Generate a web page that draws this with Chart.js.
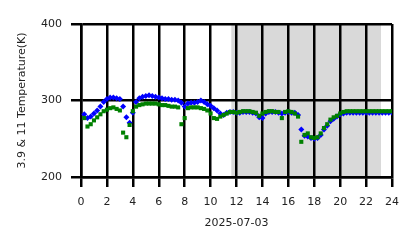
<!DOCTYPE html>
<html>
<head>
<meta charset="utf-8">
<script src="https://cdn.jsdelivr.net/npm/chart.js@4/dist/chart.umd.min.js"></script>
<style>
  html, body { margin: 0; padding: 0; background: #fff; }
  #wrap { position: relative; width: 418px; height: 248px; }
</style>
</head>
<body>
<div id="wrap"><canvas id="chart"></canvas></div>
<script>
// hours of day (2025-07-03)
const hours = [
  0.25, 0.5, 0.75, 1, 1.25, 1.5, 1.75, 2, 2.25, 2.5, 2.75, 3,
  3.25, 3.5, 3.75, 4, 4.25, 4.5, 4.75, 5, 5.25, 5.5, 5.75, 6,
  6.25, 6.5, 6.75, 7, 7.25, 7.5, 7.75, 8, 8.25, 8.5, 8.75, 9,
  9.25, 9.5, 9.75, 10, 10.25, 10.5, 10.75, 11, 11.25, 11.5, 11.75, 12,
  12.25, 12.5, 12.75, 13, 13.25, 13.5, 13.75, 14, 14.25, 14.5, 14.75, 15,
  15.25, 15.5, 15.75, 16, 16.25, 16.5, 16.75, 17, 17.25, 17.5, 17.75, 18,
  18.25, 18.5, 18.75, 19, 19.25, 19.5, 19.75, 20, 20.25, 20.5, 20.75, 21,
  21.25, 21.5, 21.75, 22, 22.25, 22.5, 22.75, 23, 23.25, 23.5, 23.75, 24
];

// 3.9 um brightness temperature (K)
const temp39 = [
  282, 277, 279, 283, 287, 292, 298, 302, 304, 304, 303, 302,
  292, 278, 271, 284, 298, 303, 305, 306, 307, 306, 305, 304,
  303, 302, 302, 301, 301, 300, 297, 292, 296, 297, 297, 298,
  300, 298, 295, 293, 290, 287, 283, 281, 284, 285, 285, 284,
  284, 285, 285, 285, 284, 283, 278, 277, 283, 285, 285, 285,
  284, 283, 284, 285, 284, 284, 281, 262, 254, 253, 251, 250,
  251, 255, 262, 267, 273, 276, 279, 282, 283, 284, 284, 284,
  284, 284, 284, 284, 284, 284, 284, 284, 284, 284, 284, 284
];

// 11 um brightness temperature (K)
const temp11 = [
  277, 266, 269, 274, 278, 282, 286, 288, 290, 291, 289, 287,
  258, 252, 268, 286, 292, 294, 295, 296, 296, 296, 296, 295,
  294, 294, 293, 292, 292, 291, 269, 277, 290, 291, 291, 291,
  290, 289, 287, 283, 277, 276, 279, 281, 283, 285, 285, 284,
  285, 286, 286, 286, 285, 284, 280, 283, 285, 286, 286, 285,
  285, 277, 285, 286, 285, 283, 279, 246, 255, 257, 252, 251,
  252, 257, 264, 269, 275, 278, 280, 283, 285, 286, 286, 286,
  286, 286, 286, 286, 286, 286, 286, 286, 286, 286, 286, 286
];

// night period shaded in grey (hours)
const nightSpan = [11.6, 23.15];

const xTicks = [0, 2, 4, 6, 8, 10, 12, 14, 16, 18, 20, 22, 24];
const yTicks = [200, 300, 400];

const toPoints = (vals) => hours.map((h, i) => ({ x: h, y: vals[i] }));

// white background + grey band, drawn before the grid lines
const shadePlugin = {
  id: 'shade',
  beforeDraw(chart) {
    const { ctx, chartArea, scales } = chart;
    ctx.save();
    ctx.fillStyle = '#ffffff';
    ctx.fillRect(0, 0, chart.width, chart.height);
    const x0 = scales.x.getPixelForValue(nightSpan[0]);
    const x1 = scales.x.getPixelForValue(nightSpan[1]);
    ctx.fillStyle = '#d9d9d9';
    ctx.fillRect(x0, chartArea.top, x1 - x0, chartArea.bottom - chartArea.top);
    ctx.restore();
  }
};

const font = { family: 'DejaVu Sans', size: 11 };

const config = {
  type: 'scatter',
  data: {
    datasets: [
      {
        label: '3.9',
        data: toPoints(temp39),
        backgroundColor: '#0000ff',
        borderWidth: 0,
        pointStyle: 'rectRot',
        pointRadius: 3,
        order: 2,
      },
      {
        label: '11',
        data: toPoints(temp11),
        backgroundColor: '#008000',
        borderWidth: 0,
        pointStyle: 'rect',
        pointRadius: 2.9,
        order: 1,
      },
    ],
  },
  options: {
    responsive: false,
    animation: false,
    layout: { padding: { left: 12, right: 26, top: 24, bottom: 14 } },
    plugins: {
      legend: { display: false },
      tooltip: { enabled: false },
    },
    scales: {
      x: {
        type: 'linear',
        min: 0,
        max: 24,
        afterBuildTicks: (axis) => { axis.ticks = xTicks.map(v => ({ value: v })); },
        afterFit: (axis) => { axis.height = 57; },
        ticks: { color: '#222', font, padding: 9, maxRotation: 0 },
        grid: { color: '#000', lineWidth: 2.5, tickLength: 10 },
        border: { display: true, color: '#000', width: 2.5 },
        title: { display: true, text: '2025-07-03', color: '#222', font },
      },
      y: {
        min: 200,
        max: 400,
        afterBuildTicks: (axis) => { axis.ticks = yTicks.map(v => ({ value: v })); },
        afterFit: (axis) => { axis.width = 69; },
        ticks: { color: '#222', font, padding: 9 },
        grid: { color: '#000', lineWidth: 2.5, tickLength: 10 },
        border: { display: true, color: '#000', width: 2.5 },
        title: { display: true, text: '3.9 & 11 Temperature(K)', color: '#222', font },
      },
    },
  },
  plugins: [shadePlugin],
};

const canvas = document.getElementById('chart');
canvas.width = 418;
canvas.height = 248;
new Chart(canvas.getContext('2d'), config);
</script>
</body>
</html>
